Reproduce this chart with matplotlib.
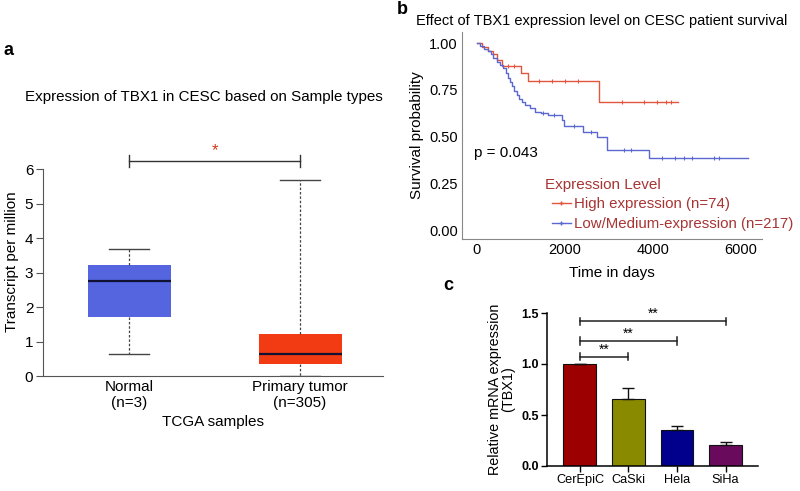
import numpy as np
import matplotlib
matplotlib.use("Agg")
import matplotlib.pyplot as plt
from matplotlib.lines import Line2D

plt.rcParams["font.family"] = ["Liberation Sans", "DejaVu Sans"]

# ---- panel a: TCGA boxplot summary stats ----
box_labels = ["Normal\n(n=3)", "Primary tumor\n(n=305)"]
box_stats = {
    "whislo": [0.65, 0.0],
    "q1": [1.70, 0.35],
    "med": [2.75, 0.63],
    "q3": [3.22, 1.22],
    "whishi": [3.67, 5.67],
}
box_colors = ["#5465DF", "#F23B12"]

# ---- panel b: Kaplan-Meier steps ----
high_t = [0, 120, 250, 370, 450, 570, 1000, 1160, 2780, 4560]
high_s = [1.0, 0.98, 0.96, 0.94, 0.91, 0.877, 0.84, 0.797, 0.685, 0.685]
high_cens = [700, 850, 1400, 1700, 2000, 2300, 3300, 3800, 4100, 4300, 4400]

low_t = [0, 80, 160, 240, 320, 365, 450, 520, 590, 650, 700, 750, 800, 850,
         910, 960, 1020, 1090, 1200, 1320, 1450, 1620, 1930, 1980, 2410,
         2730, 2960, 3920, 6170]
low_s = [1.0, 0.985, 0.97, 0.955, 0.94, 0.92, 0.90, 0.885, 0.866, 0.84,
         0.815, 0.79, 0.77, 0.745, 0.72, 0.70, 0.685, 0.668, 0.65, 0.63,
         0.626, 0.615, 0.59, 0.556, 0.524, 0.497, 0.428, 0.385, 0.385]
low_cens = [1500, 1750, 2200, 2600, 3350, 3500, 4200, 4500, 4700, 4900, 5400, 5500]

# ---- panel c: qPCR ----
cells = ["CerEpiC", "CaSki", "Hela", "SiHa"]
rel_expr = [1.0, 0.66, 0.35, 0.21]
rel_err = [0.0, 0.10, 0.04, 0.03]
bar_colors = ["#9C0000", "#8A8A00", "#00008C", "#6A0A5C"]
sig_pairs = [(0, 1, 1.07), (0, 2, 1.225), (0, 3, 1.42)]

W, H = 800, 491
fig = plt.figure(figsize=(W / 100, H / 100), dpi=100)


def px_axes(l, t, r, b):
    return fig.add_axes([l / W, 1 - b / H, (r - l) / W, (b - t) / H])


# ================= panel a =================
ax = px_axes(43, 148, 383, 376)
stats = []
for i in range(2):
    stats.append({k: box_stats[k][i] for k in box_stats})
bp = ax.bxp(stats, positions=[1, 2], widths=0.485, patch_artist=True,
            showfliers=False, showcaps=True,
            medianprops=dict(color="#111133", lw=1.6),
            whiskerprops=dict(color="#444444", lw=0.9, ls=(0, (2, 1.5))),
            capprops=dict(color="#444444", lw=1.0),
            boxprops=dict(lw=0))
for patch, c in zip(bp["boxes"], box_colors):
    patch.set_facecolor(c)
for cap in bp["caps"]:
    x0, x1 = cap.get_xdata()
    m = (x0 + x1) / 2
    cap.set_xdata([m - 0.117, m + 0.117])
ax.set_xlim(0.497, 2.485)
ax.set_ylim(0, 6.61)
ax.set_yticks(range(7))
ax.set_xticks([1, 2])
ax.set_xticklabels(box_labels, fontsize=11)
ax.tick_params(axis="y", labelsize=11, length=5, color="#555555", pad=2)
ax.tick_params(axis="x", length=0, pad=3)
for s in ["top", "right"]:
    ax.spines[s].set_visible(False)
ax.spines["left"].set_bounds(0, 6)
ax.spines["left"].set_color("#555555")
ax.spines["bottom"].set_color("#555555")
ax.set_ylabel("Transcript per million", fontsize=11, labelpad=4)
ax.set_xlabel("TCGA samples", fontsize=11, labelpad=3)
ax.plot([1, 2], [6.23, 6.23], color="#333333", lw=1.0, clip_on=False)
for xx in [1, 2]:
    ax.plot([xx, xx], [6.05, 6.41], color="#333333", lw=1.0, clip_on=False)
ax.text(1.5, 6.33, "*", color="#D03A1A", fontsize=12, ha="center", va="bottom")
fig.text(204 / W, 1 - 97 / H, "Expression of TBX1 in CESC based on Sample types",
         fontsize=10.9, ha="center", va="center")
fig.text(4 / W, 1 - 50 / H, "a", fontsize=13, weight="bold", va="center")

# ================= panel b =================
bx = px_axes(462, 32, 762, 239)
red, blue = "#E2563F", "#5A68CF"
for t, s, cens, c in ((high_t, high_s, high_cens, red), (low_t, low_s, low_cens, blue)):
    bx.step(t, s, where="post", color=c, lw=1.0)
    t_arr, s_arr = np.asarray(t), np.asarray(s)
    cs = s_arr[np.searchsorted(t_arr, cens, side="right") - 1]
    bx.plot(cens, cs, ls="none", marker="|", ms=3, mew=0.8, color=c)
bx.set_xlim(-340, 6480)
bx.set_ylim(-0.048, 1.059)
bx.set_xticks([0, 2000, 4000, 6000])
bx.set_yticks([0, 0.25, 0.5, 0.75, 1.0])
bx.set_yticklabels(["0.00", "0.25", "0.50", "0.75", "1.00"])
bx.tick_params(labelsize=10.5, length=0, pad=3)
for s in ["top", "right"]:
    bx.spines[s].set_visible(False)
for s in ["left", "bottom"]:
    bx.spines[s].set_color("#888888")
bx.set_ylabel("Survival probability", fontsize=11, labelpad=4)
bx.set_xlabel("Time in days", fontsize=11, labelpad=6)
bx.text(-60, 0.41, "p = 0.043", fontsize=11, va="center")
leg_color = "#A83434"
handles = [Line2D([], [], color=red, lw=1.0, marker="+", ms=3),
           Line2D([], [], color=blue, lw=1.0, marker="+", ms=3)]
leg = bx.legend(handles, ["High expression (n=74)", "Low/Medium-expression (n=217)"],
                loc="upper left",
                bbox_to_anchor=(552 / W, 1 - 197 / H), bbox_transform=fig.transFigure,
                frameon=False, fontsize=10.8,
                handlelength=1.25, handletextpad=0.2, labelspacing=0.4,
                borderpad=0, borderaxespad=0)
for txt in leg.get_texts():
    txt.set_color(leg_color)
fig.text(545 / W, 1 - 185 / H, "Expression Level", fontsize=11, color=leg_color,
         va="center")
fig.text(416 / W, 1 - 21 / H, "Effect of TBX1 expression level on CESC patient survival",
         fontsize=10.5, va="center")
fig.text(397 / W, 1 - 10 / H, "b", fontsize=13, weight="bold", va="center")

# ================= panel c =================
cx = px_axes(547, 313, 758, 466)
x = np.arange(len(cells))
cx.bar(x, rel_expr, width=0.68, color=bar_colors, edgecolor="#111111", lw=0.8)
cx.errorbar(x, rel_expr, yerr=[np.zeros(len(x)), rel_err], fmt="none",
            ecolor="#111111", elinewidth=1.0, capsize=4, capthick=1.0)
cx.set_xlim(-0.68, 3.67)
cx.set_ylim(0, 1.5)
cx.set_yticks([0, 0.5, 1.0, 1.5])
cx.set_yticklabels(["0.0", "0.5", "1.0", "1.5"], fontweight="bold")
cx.set_xticks(x)
cx.set_xticklabels(cells, fontsize=9.2)
cx.tick_params(axis="y", labelsize=9, length=4, width=1.0, pad=2)
cx.tick_params(axis="x", length=4, width=1.0, pad=2)
for s in ["top", "right"]:
    cx.spines[s].set_visible(False)
for s in ["left", "bottom"]:
    cx.spines[s].set_linewidth(1.1)
cx.set_ylabel("Relative mRNA expression\n(TBX1)", fontsize=10.4, labelpad=4,
              linespacing=1.0)
for a, b, h in sig_pairs:
    cx.plot([a, b], [h, h], color="#222222", lw=1.1, clip_on=False)
    for xx in (a, b):
        cx.plot([xx, xx], [h - 0.035, h + 0.035], color="#222222", lw=1.1, clip_on=False)
    cx.text((a + b) / 2, h + 0.005, "**", fontsize=10, ha="center", va="bottom")
fig.text(443 / W, 1 - 285 / H, "c", fontsize=13, weight="bold", va="center")

fig.savefig("out.png", dpi=100, facecolor="white")
